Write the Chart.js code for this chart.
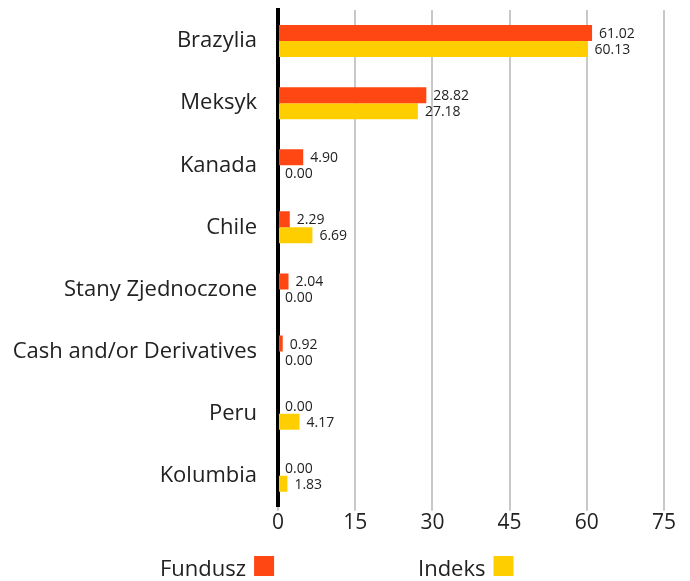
<!DOCTYPE html>
<html>
<head>
<meta charset="utf-8">
<script src="https://cdn.jsdelivr.net/npm/chart.js@4/dist/chart.umd.min.js"></script>
<style>
  html, body { margin: 0; padding: 0; background: #fff; }
  #wrap { width: 690px; height: 581px; }
</style>
</head>
<body>
<div id="wrap"><canvas id="geoChart"></canvas></div>
<script>
const countries = ["Brazylia", "Meksyk", "Kanada", "Chile", "Stany Zjednoczone", "Cash and/or Derivatives", "Peru", "Kolumbia"];
const fundValues = [61.02, 28.82, 4.90, 2.29, 2.04, 0.92, 0.00, 0.00];
const indexValues = [60.13, 27.18, 0.00, 6.69, 0.00, 0.00, 4.17, 1.83];
const xTicks = [0, 15, 30, 45, 60, 75];

const FONT = "'Open Sans', sans-serif";

// value labels next to each bar
const barLabels = {
  id: "barLabels",
  afterDatasetsDraw(chart) {
    const ctx = chart.ctx;
    ctx.save();
    ctx.font = "14px " + FONT;
    ctx.fillStyle = "#222";
    ctx.textBaseline = "middle";
    ctx.textAlign = "left";
    chart.data.datasets.forEach((ds, i) => {
      chart.getDatasetMeta(i).data.forEach((bar, j) => {
        ctx.fillText(ds.data[j].toFixed(2), bar.x + 7, bar.y + 1);
      });
    });
    ctx.restore();
  }
};

// legend with the text first and the swatch after it
const bottomLegend = {
  id: "bottomLegend",
  afterDraw(chart) {
    const ctx = chart.ctx;
    const starts = [160, 418];
    ctx.save();
    ctx.font = "22px " + FONT;
    ctx.textBaseline = "alphabetic";
    chart.data.datasets.forEach((ds, i) => {
      const x = starts[i];
      ctx.fillStyle = "#222";
      ctx.fillText(ds.label, x, 576);
      const w = ctx.measureText(ds.label).width;
      ctx.fillStyle = ds.backgroundColor;
      ctx.fillRect(x + w + 8, 556, 20, 20);
    });
    ctx.restore();
  }
};

new Chart(document.getElementById("geoChart"), {
  type: "bar",
  data: {
    labels: countries,
    datasets: [
      { label: "Fundusz", data: fundValues, backgroundColor: "#FF4713" },
      { label: "Indeks", data: indexValues, backgroundColor: "#FFCE00" }
    ]
  },
  options: {
    indexAxis: "y",
    responsive: true,
    maintainAspectRatio: false,
    animation: false,
    categoryPercentage: 0.516,
    barPercentage: 1,
    layout: { padding: { top: 10, right: 26, bottom: 45, left: 0 } },
    plugins: { legend: { display: false }, tooltip: { enabled: false } },
    scales: {
      x: {
        min: 0,
        max: 75,
        afterBuildTicks(axis) { axis.ticks = xTicks.map(v => ({ value: v })); },
        grid: { color: "#c8c8c8", lineWidth: 2, drawTicks: true, tickLength: 4 },
        border: { display: false },
        ticks: { color: "#222", font: { family: FONT, size: 21 }, padding: 0 }
      },
      y: {
        afterFit(axis) {
          axis.width = 278;
          axis.paddingTop = 0;
          axis.paddingBottom = 0;
        },
        grid: { display: false, drawTicks: false },
        border: { color: "#000", width: 4 },
        ticks: { color: "#222", font: { family: FONT, size: 22 }, padding: 21 }
      }
    }
  },
  plugins: [barLabels, bottomLegend]
});
</script>
</body>
</html>
